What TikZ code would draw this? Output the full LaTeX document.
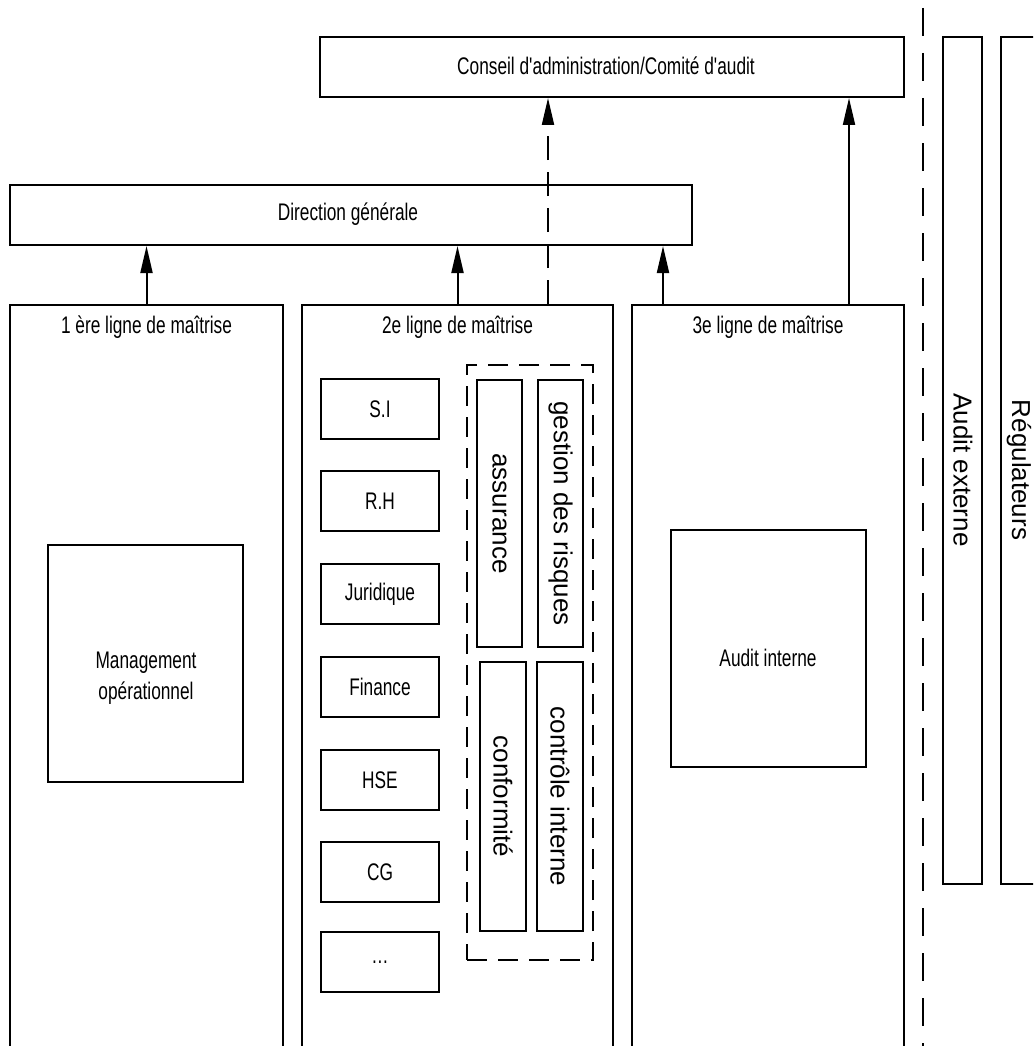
\documentclass[tikz,border=0pt]{standalone}
\usepackage{fontspec}
\setmainfont{Liberation Sans}
\newfontfamily\condensed{Liberation Sans}[FakeStretch=0.72]
\usetikzlibrary{arrows.meta}

\begin{document}
\begin{tikzpicture}[x=1pt,y=-1pt,
  box/.style={draw, line width=2pt, inner sep=0pt},
  dbox/.style={draw, line width=2pt, inner sep=0pt, dash pattern=on 20pt off 11pt},
  htext/.style={font=\condensed\fontsize{24}{31}\selectfont, align=center, inner sep=0pt},
  fbox/.style={box, htext, draw, line width=2pt, minimum width=118pt, minimum height=60pt},
  vtext/.style={font=\fontsize{26}{30}\selectfont, inner sep=0pt, rotate=-90},
  vbox/.style={box, rotate=-90, font=\fontsize{26}{30}\selectfont},
  arr/.style={line width=2pt, -{Triangle[length=27pt,width=12pt]}},
  darr/.style={arr, dash pattern=on 24pt off 12pt},
  sep/.style={line width=2pt, dash pattern=on 28pt off 17pt},
]
\useasboundingbox (0,0) rectangle (1033,1046);
\clip (0,0) rectangle (1033,1046);

% governance bodies
\node[box, minimum width=584pt, minimum height=60pt] (conseil) at (612,67) {};
\node[htext] (conseilT) at (606,66) {Conseil d'administration/Comité d'audit};
\node[box, minimum width=682pt, minimum height=60pt] (dg) at (351,215) {};
\node[htext] (dgT) at (348,214) {Direction générale};

% the three lines of defence (open at the bottom)
\node[box, minimum width=273pt, minimum height=775pt] (col1) at (146.5,692.5) {};
\node[box, minimum width=311pt, minimum height=775pt] (col2) at (457.5,692.5) {};
\node[box, minimum width=272pt, minimum height=775pt] (col3) at (768,692.5) {};
\node[htext] (col1T) at (146.5,327) {1 ère ligne de maîtrise};
\node[htext] (col2T) at (457.5,327) {2e ligne de maîtrise};
\node[htext] (col3T) at (768,327) {3e ligne de maîtrise};

% first line
\node[box, minimum width=195pt, minimum height=237pt] (mgmt) at (145.5,663.5) {};
\node[htext] (mgmtT) at (146,678) {Management\\opérationnel};

% second line: support functions
\node[fbox] (si)  at (380,409) {S.I};
\node[fbox] (rh)  at (380,501) {R.H};
\node[fbox] (jur) at (380,594) {Juridique};
\node[fbox] (fin) at (380,687) {Finance};
\node[fbox] (hse) at (380,780) {HSE};
\node[fbox] (cg)  at (380,872) {CG};
\node[fbox] (etc) at (380,962) {\ldots};

% second line: risk and control functions
\node[dbox, minimum width=126pt, minimum height=595pt] (grp) at (530,662.5) {};
\node[vbox, minimum width=267pt, minimum height=45pt] (assur) at (499.5,513.5) {assurance};
\node[vbox, minimum width=267pt, minimum height=45pt] (risq) at (560.5,513.5) {gestion des risques};
\node[vbox, minimum width=269pt, minimum height=46pt] (conf) at (503,796.5) {conformité};
\node[vbox, minimum width=269pt, minimum height=46pt] (ctrl) at (560,796.5) {contrôle interne};

% third line
\node[box, minimum width=195pt, minimum height=237pt] (audit) at (768.5,648.5) {};
\node[htext] (auditT) at (768,658) {Audit interne};

% external parties
\draw[sep] (923,8) -- (923,1070);
\node[box, minimum width=39pt, minimum height=847pt] (ext) at (962.5,460.5) {};
\node[vtext] (extT) at (963,470) {Audit externe};
\node[box, minimum width=42pt, minimum height=847pt] (reg) at (1022,460.5) {};
\node[vtext] (regT) at (1019,470) {Régulateurs};

% reporting lines
\coordinate (c2b) at ([xshift=247pt]col2.north west);
\coordinate (c3a) at ([xshift=32pt]col3.north west);
\coordinate (c3b) at ([xshift=218pt]col3.north west);
\draw[arr] (col1.north) -- (col1.north |- dg.south);
\draw[arr] (col2.north) -- (col2.north |- dg.south);
\draw[arr] (c3a) -- (c3a |- dg.south);
\draw[darr] (c2b) -- (c2b |- conseil.south);
\draw[arr] (c3b) -- (c3b |- conseil.south);
\end{tikzpicture}
\end{document}
